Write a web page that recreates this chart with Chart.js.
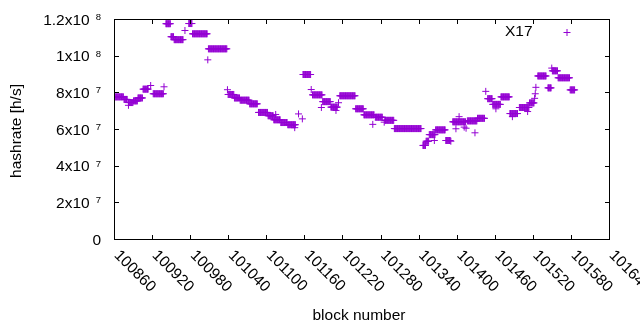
<!DOCTYPE html>
<html>
<head>
<meta charset="utf-8">
<script src="https://cdn.jsdelivr.net/npm/chart.js@4.4.0/dist/chart.umd.min.js"></script>
<style>
  html, body { margin: 0; padding: 0; background: #fff; }
  #wrap { width: 640px; height: 330px; }
</style>
</head>
<body>
<div id="wrap"><canvas id="hashrate-chart" width="640" height="330"></canvas></div>
<script>
// runs of consecutive blocks that share one hashrate estimate
const runFirst = [
  100861, 100875, 100882, 100882, 100890, 100897, 100905, 100917, 100921, 100938,
  100941, 100949, 100954, 100971, 100977, 100983, 101007, 101008, 101038, 101039,
  101049, 101058, 101073, 101087, 101102, 101111, 101114, 101122, 101133, 101144,
  101150, 101156, 101157, 101170, 101172, 101186, 101188, 101201, 101209, 101213,
  101215, 101240, 101253, 101267, 101271, 101285, 101286, 101301, 101346, 101351,
  101356, 101364, 101366, 101382, 101390, 101393, 101398, 101403, 101411, 101414,
  101416, 101428, 101432, 101445, 101448, 101456, 101461, 101469, 101483, 101487,
  101498, 101511, 101514, 101522, 101523, 101524, 101527, 101543, 101549, 101550,
  101559, 101578
];
const runLast = [
  100874, 100880, 100882, 100889, 100896, 100904, 100913, 100917, 100937, 100938,
  100948, 100953, 100968, 100971, 100982, 101006, 101007, 101037, 101038, 101048,
  101057, 101072, 101085, 101101, 101110, 101121, 101114, 101132, 101145, 101144,
  101150, 101156, 101169, 101170, 101187, 101186, 101200, 101211, 101209, 101213,
  101239, 101252, 101269, 101267, 101282, 101285, 101300, 101343, 101350, 101355,
  101365, 101364, 101381, 101389, 101390, 101413, 101398, 101403, 101411, 101414,
  101431, 101428, 101443, 101445, 101455, 101468, 101461, 101482, 101495, 101487,
  101513, 101511, 101521, 101522, 101523, 101524, 101540, 101548, 101549, 101558,
  101577, 101585
];
const runRate = [
  7.78e7, 7.64e7, 7.32e7, 7.47e7, 7.56e7, 7.72e7, 8.20e7, 8.40e7, 7.95e7, 8.33e7,
  11.77e7, 11.06e7, 10.90e7, 11.40e7, 11.78e7, 11.22e7, 9.80e7, 10.40e7, 8.17e7, 7.91e7,
  7.72e7, 7.60e7, 7.40e7, 6.93e7, 6.75e7, 6.53e7, 6.82e7, 6.38e7, 6.26e7, 6.10e7,
  6.85e7, 6.58e7, 9.00e7, 8.18e7, 7.89e7, 7.20e7, 7.52e7, 7.22e7, 7.04e7, 7.46e7,
  7.84e7, 7.13e7, 6.80e7, 6.28e7, 6.67e7, 6.40e7, 6.50e7, 6.05e7, 5.13e7, 5.36e7,
  5.72e7, 5.40e7, 5.98e7, 5.40e7, 5.36e7, 6.42e7, 6.04e7, 6.70e7, 6.13e7, 6.07e7,
  6.47e7, 5.82e7, 6.61e7, 8.08e7, 7.68e7, 7.37e7, 7.13e7, 7.78e7, 6.87e7, 6.70e7,
  7.20e7, 6.98e7, 7.45e7, 7.70e7, 7.95e7, 8.30e7, 8.92e7, 8.27e7, 9.35e7, 9.20e7,
  8.82e7, 8.16e7
];

const xTicks = [100860, 100920, 100980, 101040, 101100, 101160, 101220, 101280,
  101340, 101400, 101460, 101520, 101580, 101640];
const yTicks = [0, 2e7, 4e7, 6e7, 8e7, 1e8, 1.2e8];
const yTickMant = ["0", "2x10", "4x10", "6x10", "8x10", "1x10", "1.2x10"];
const yTickExp = ["", "7", "7", "7", "7", "8", "8"];
const seriesName = "X17";
const purple = "#9400d3";

// one point per block
const points = [];
for (let i = 0; i < runFirst.length; i++) {
  for (let b = runFirst[i]; b <= runLast[i]; b++) {
    points.push({ x: b, y: runRate[i] });
  }
}

const FONT = "15.5px 'Liberation Sans', Arial, sans-serif";
const SUP_FONT = "9.5px 'Liberation Sans', Arial, sans-serif";

// gnuplot-like border, inward ticks, rotated labels and key
const gnuplotFrame = {
  id: "gnuplotFrame",
  afterDatasetsDraw(chart) {
    const ctx = chart.ctx;
    const a = chart.chartArea;
    const xs = chart.scales.x;
    const ys = chart.scales.y;
    const tl = 4.5;
    ctx.save();
    ctx.strokeStyle = "#000";
    ctx.lineWidth = 1;
    ctx.strokeRect(a.left, a.top, a.right - a.left, a.bottom - a.top);
    ctx.beginPath();
    xTicks.forEach(v => {
      const px = Math.floor(xs.getPixelForValue(v)) + 0.5;
      ctx.moveTo(px, a.bottom); ctx.lineTo(px, a.bottom - tl);
      ctx.moveTo(px, a.top); ctx.lineTo(px, a.top + tl);
    });
    yTicks.forEach(v => {
      const py = Math.floor(ys.getPixelForValue(v)) + 0.5;
      ctx.moveTo(a.left, py); ctx.lineTo(a.left + tl, py);
      ctx.moveTo(a.right, py); ctx.lineTo(a.right - tl, py);
    });
    ctx.stroke();

    ctx.fillStyle = "#000";
    // y tick labels with superscript exponent
    const yRight = 101;
    yTicks.forEach((v, i) => {
      const py = ys.getPixelForValue(v);
      ctx.textAlign = "right";
      ctx.textBaseline = "middle";
      if (!yTickExp[i]) {
        ctx.font = FONT;
        ctx.fillText(yTickMant[i], yRight, py + 1);
        return;
      }
      ctx.font = SUP_FONT;
      const ew = ctx.measureText(yTickExp[i]).width;
      ctx.textBaseline = "top";
      ctx.fillText(yTickExp[i], yRight, py - 7);
      ctx.font = FONT;
      ctx.textBaseline = "middle";
      ctx.fillText(yTickMant[i], yRight - ew - 6, py + 1);
    });

    // x tick labels, rotated -45 like gnuplot
    ctx.font = FONT;
    xTicks.forEach(v => {
      const px = xs.getPixelForValue(v);
      ctx.save();
      ctx.translate(px + 2, a.bottom + 13.5);
      ctx.rotate(Math.PI / 4);
      ctx.textAlign = "left";
      ctx.textBaseline = "middle";
      ctx.fillText(String(v), 0, 0);
      ctx.restore();
    });

    // axis titles
    ctx.textAlign = "center";
    ctx.textBaseline = "middle";
    ctx.fillText("block number", 359, 316);
    ctx.save();
    ctx.translate(17, 131);
    ctx.rotate(-Math.PI / 2);
    ctx.fillText("hashrate [h/s]", 0, 0);
    ctx.restore();

    // key
    ctx.textAlign = "right";
    ctx.fillText(seriesName, 532.5, 32);
    ctx.strokeStyle = purple;
    ctx.beginPath();
    ctx.moveTo(563.5, 32.5); ctx.lineTo(570.5, 32.5);
    ctx.moveTo(567, 29); ctx.lineTo(567, 36);
    ctx.stroke();
    ctx.restore();
  }
};

const ctx = document.getElementById("hashrate-chart");
new Chart(ctx, {
  type: "scatter",
  data: {
    datasets: [{
      label: seriesName,
      data: points,
      pointStyle: "cross",
      pointRadius: 3.5,
      pointHoverRadius: 3.5,
      borderColor: purple,
      backgroundColor: purple,
      borderWidth: 1,
      showLine: false,
    }],
  },
  options: {
    responsive: false,
    animation: false,
    devicePixelRatio: 1,
    layout: { padding: { left: 114.5, right: 30.5, top: 19.5, bottom: 90.5 } },
    plugins: { legend: { display: false }, tooltip: { enabled: false } },
    scales: {
      x: { type: "linear", min: 100860, max: 101640, display: false },
      y: { type: "linear", min: 0, max: 1.2e8, display: false },
    },
  },
  plugins: [gnuplotFrame],
});
</script>
</body>
</html>
